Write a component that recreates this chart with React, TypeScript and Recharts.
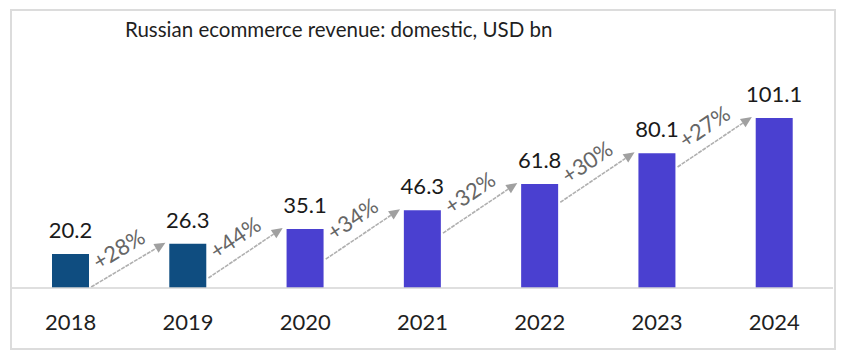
import { Bar, BarChart, Cell, LabelList, ReferenceLine, XAxis, YAxis } from 'recharts'

const years = ['2018', '2019', '2020', '2021', '2022', '2023', '2024']
const revenue = [20.2, 26.3, 35.1, 46.3, 61.8, 80.1, 101.1]
const growth = ['+28%', '+44%', '+34%', '+32%', '+30%', '+27%']
const actualYears = ['2018', '2019']

const TITLE = 'Russian ecommerce revenue: domestic, USD bn'

const ACTUAL_COLOR = '#0f4d80'
const FORECAST_COLOR = '#4a40d0'
const ARROW_COLOR = '#b0b0b0'
const FONT = 'Lato, "Open Sans", sans-serif'
const BAR_SIZE = 37

const data = years.map((year, i) => ({ year, value: revenue[i] }))

// arrow from the right side of one bar up to the top-left corner of the next one
function GrowthArrow(props: any) {
  const { x1, y1, x2, y2, text } = props
  const half = BAR_SIZE / 2
  const ex = x2 - half - 4
  const ey = y2 - 1
  const sx = x1 + half + 2
  const sy = Math.min(y1 - 1, ey + 50)
  const ang = Math.atan2(ey - sy, ex - sx)
  const head = 11
  const bx = ex - head * Math.cos(ang)
  const by = ey - head * Math.sin(ang)
  const nx = Math.sin(ang)
  const ny = -Math.cos(ang)
  const mx = (sx + ex) / 2 + nx * 19
  const my = (sy + ey) / 2 + ny * 19
  const deg = (ang * 180) / Math.PI
  return (
    <g>
      <line x1={sx} y1={sy} x2={bx} y2={by} stroke={ARROW_COLOR} strokeWidth={1.6} strokeDasharray="4 1" />
      <polygon
        points={`${ex},${ey} ${bx + nx * 5},${by + ny * 5} ${bx - nx * 5},${by - ny * 5}`}
        fill="#a0a0a0"
      />
      <text
        x={mx}
        y={my}
        textAnchor="middle"
        dominantBaseline="central"
        fontFamily={FONT}
        fontSize={22}
        fill="#666666"
        transform={`rotate(${deg} ${mx} ${my})`}
      >
        {text}
      </text>
    </g>
  )
}

function YearTick(props: any) {
  const { x, y, payload } = props
  return (
    <text x={x} y={y + 34} textAnchor="middle" fontFamily={FONT} fontSize={22} fill="#1f1f1f">
      {payload.value}
    </text>
  )
}

export default function App() {
  return (
    <div style={{ position: 'absolute', left: 0, top: 0, width: 845, height: 361, background: '#fff' }}>
      <div
        style={{
          position: 'absolute',
          left: 10,
          top: 9,
          width: 822,
          height: 337,
          border: '2px solid #dcdcdc',
        }}
      />
      <div
        style={{
          position: 'absolute',
          left: 125,
          top: 17,
          fontFamily: FONT,
          fontSize: 20.5,
          color: '#1f1f1f',
          whiteSpace: 'nowrap',
        }}
      >
        {TITLE}
      </div>
      <div style={{ position: 'absolute', left: 0, top: 0 }}>
        <BarChart width={845} height={361} data={data} margin={{ top: 103, right: 12, bottom: 43, left: 12 }}>
          <XAxis
            dataKey="year"
            height={30}
            axisLine={{ stroke: '#d4d4d4', strokeWidth: 1.5 }}
            tickLine={false}
            tick={<YearTick />}
            interval={0}
          />
          <YAxis hide domain={[0, 110]} />
          <Bar dataKey="value" barSize={BAR_SIZE} isAnimationActive={false}>
            {data.map((d) => (
              <Cell key={d.year} fill={actualYears.includes(d.year) ? ACTUAL_COLOR : FORECAST_COLOR} />
            ))}
            <LabelList
              dataKey="value"
              position="top"
              offset={16}
              fill="#1a1a1a"
              fontSize={22}
              fontFamily={FONT}
              formatter={(v: any) => Number(v).toFixed(1)}
            />
          </Bar>
          {growth.map((g, i) => (
            <ReferenceLine
              key={g + i}
              segment={[
                { x: years[i], y: 0 },
                { x: years[i + 1], y: revenue[i + 1] },
              ]}
              ifOverflow="visible"
              shape={(p: any) => <GrowthArrow {...p} text={g} />}
            />
          ))}
        </BarChart>
      </div>
    </div>
  )
}
